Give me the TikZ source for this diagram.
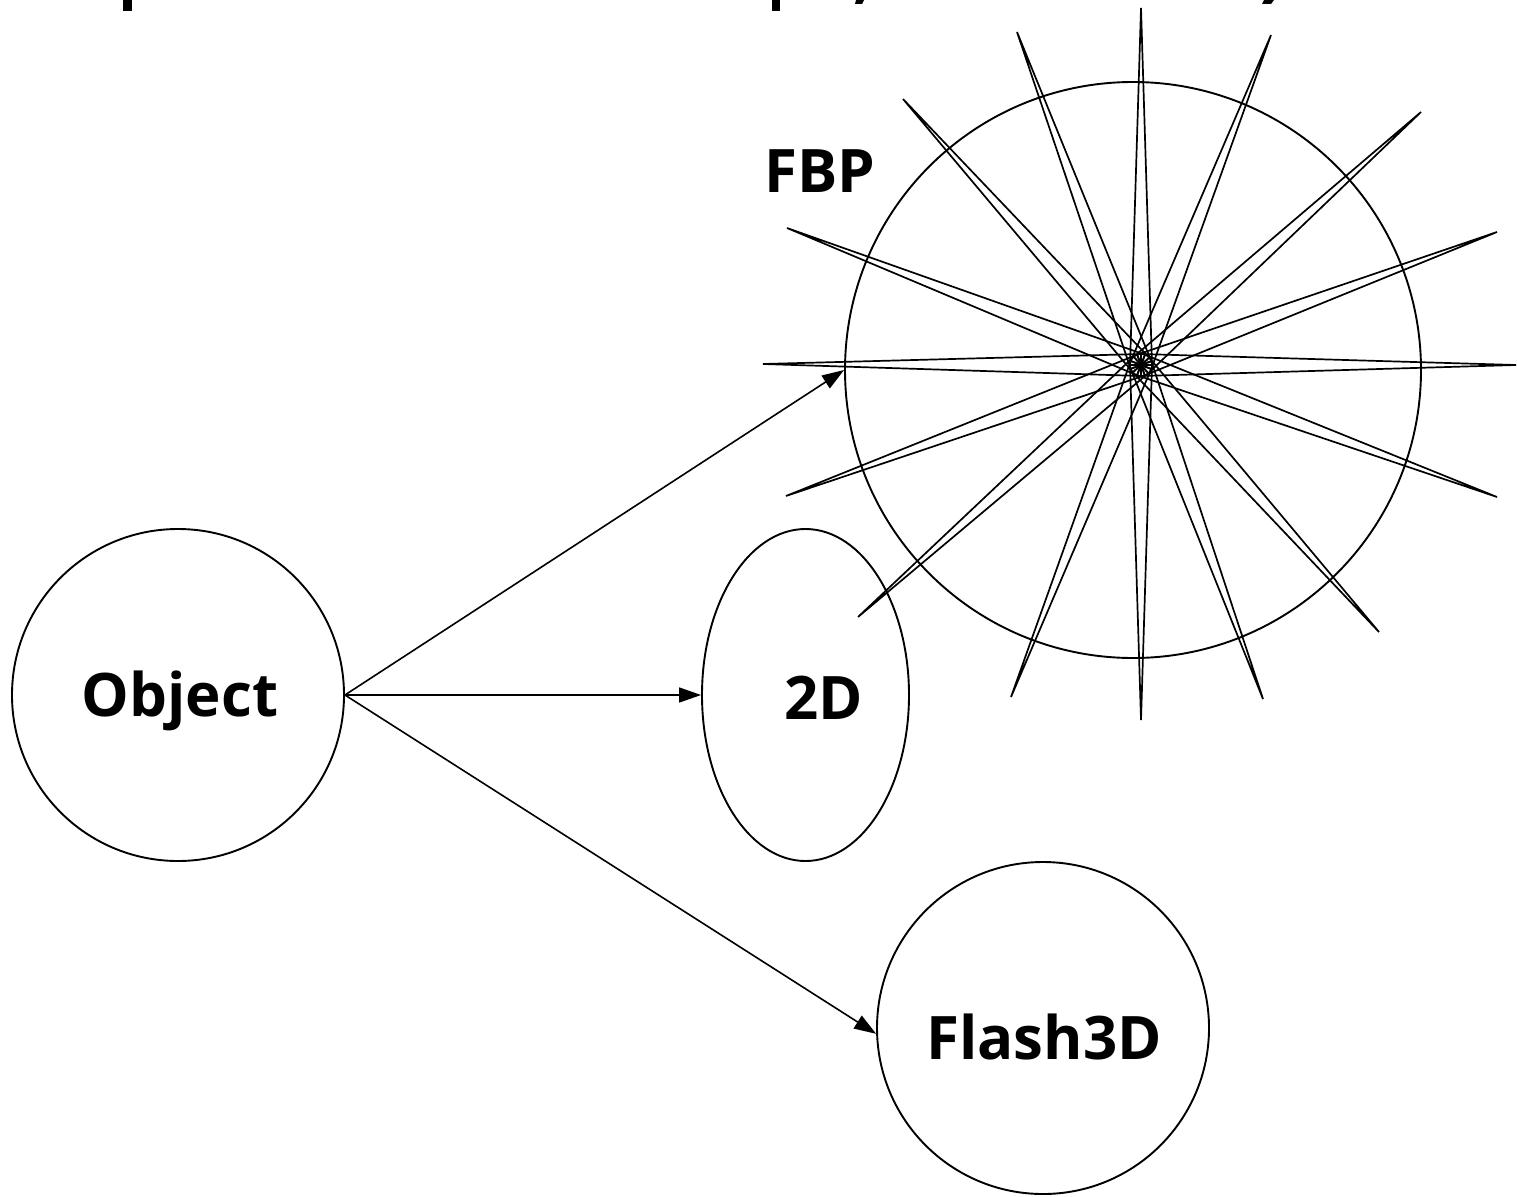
\documentclass[tikz,border=0pt]{standalone}
\usepackage{fontspec}
\setmainfont{Open Sans}
\usetikzlibrary{calc,shapes.geometric,arrows.meta}

\begin{document}
\begin{tikzpicture}[x=1pt,y=-1pt,line width=1.9pt,
  disc/.style={draw,circle,inner sep=0pt,minimum size=#1},
  lbl/.style={anchor=base,inner sep=0pt,font=\fontsize{60}{68}\selectfont\bfseries},
  link/.style={line width=1.6pt,-{Triangle[length=22pt,width=15pt]}},
  ray/.style={line width=1.7pt},
  glyph/.style={fill=black,draw=none}]
\useasboundingbox (0,0) rectangle (1517,1196);

% tails of the heading line running off the top edge
\fill[glyph] (123,0) rectangle (132,11);
\fill[glyph] (772,0) rectangle (780,11);
\fill[glyph] (856,0) -- (864,0) -- (862,4) -- (855,4) -- cycle;
\fill[glyph] (1264,0) -- (1274,0) -- (1271,4) -- (1262,4) -- cycle;

% source
\node[disc=332pt] (obj) at (178,695) {};
\node[lbl] (objtxt) at (180,716) {Object};

% 2D view
\node[draw,ellipse,inner sep=0pt,minimum width=207pt,minimum height=332pt] (twod) at (805.5,695) {};
\node[lbl] (twodtxt) at (824,719) {2D};

% Flash3D
\node[disc=332pt] (flash) at (1043,1028) {};
\node[lbl] (flashtxt) at (1044,1059) {Flash3D};

% FBP reconstruction: circle with radial back-projection rays
\node[disc=576pt] (fbp) at (1133,370) {};
\node[lbl] (fbptxt) at (820,192) {FBP};

\coordinate (sc) at (1141,365);
\coordinate (r1a) at (1141,8);   \coordinate (r1b) at (1141,720);
\coordinate (r2a) at (1017,32);  \coordinate (r2b) at (1263,699);
\coordinate (r3a) at (903,99);   \coordinate (r3b) at (1379,632);
\coordinate (r4a) at (787,228);  \coordinate (r4b) at (1497,497);
\coordinate (r5a) at (763,364);  \coordinate (r5b) at (1516,365);
\coordinate (r6a) at (786,496);  \coordinate (r6b) at (1497,232);
\coordinate (r7a) at (858,617);  \coordinate (r7b) at (1421,112);
\coordinate (r8a) at (1011,697); \coordinate (r8b) at (1271,35);
% each ray: two thin triangles sharing a short base through the centre
\foreach \i in {1,...,8}{
  \coordinate (p\i) at ($(sc)!11pt!90:(r\i a)$);
  \coordinate (m\i) at ($(sc)!11pt!-90:(r\i a)$);
  \draw[ray] (r\i a) -- (p\i) -- (m\i) -- cycle;
  \draw[ray] (r\i b) -- (p\i) -- (m\i) -- cycle;
}

% connectors
\draw[link] (obj.east) -- (fbp.west);
\draw[link] (obj.east) -- (twod.west);
\draw[link] (obj.east) -- (flash.182);
\end{tikzpicture}
\end{document}
